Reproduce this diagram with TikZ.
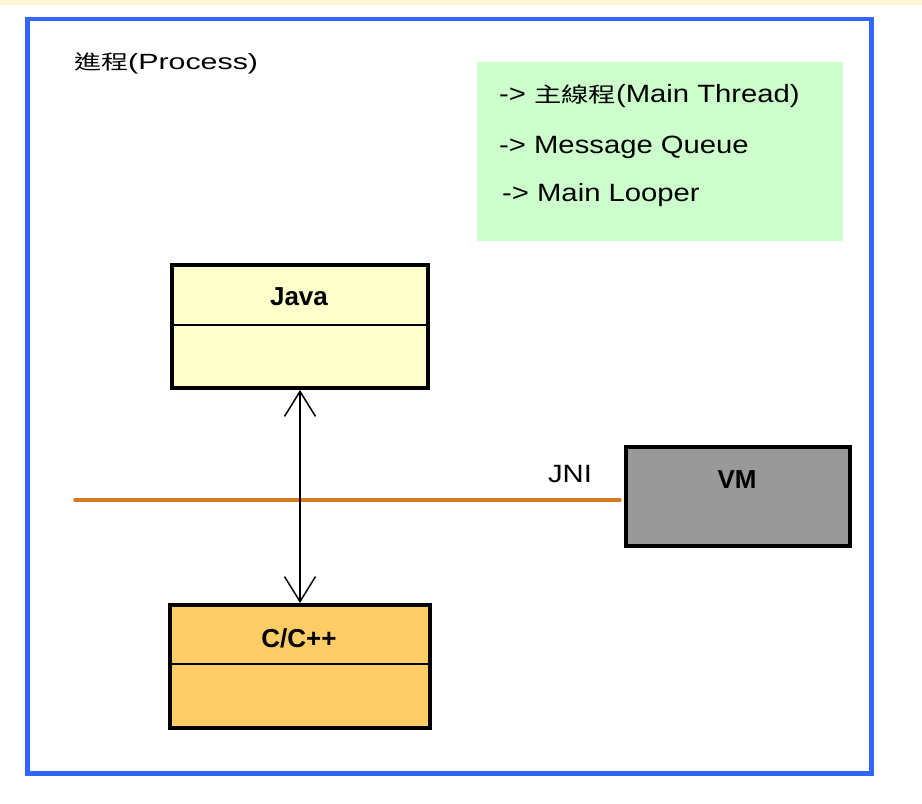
\documentclass[tikz,border=0pt]{standalone}
\usepackage{fontspec}
\setmainfont{Liberation Sans}
\newfontfamily\procfont{Liberation Sans}[FakeStretch=1.38]
\newfontfamily\proccjk{Noto Sans CJK TC}[FakeStretch=1.35]
\newfontfamily\labfont{Liberation Sans}[FakeStretch=1.17]
\newfontfamily\labcjk{Noto Sans CJK TC}[FakeStretch=1.3]
\usetikzlibrary{arrows.meta,calc}
\definecolor{bandcol}{HTML}{FFF6D6}
\definecolor{framecol}{HTML}{3366FF}
\definecolor{notecol}{HTML}{CCFFCC}
\definecolor{javacol}{HTML}{FFFFCC}
\definecolor{cppcol}{HTML}{FFCC66}
\definecolor{vmcol}{HTML}{999999}
\definecolor{jnicol}{HTML}{D47A20}
\tikzset{
  classbox/.style={draw=black, line width=4bp, inner sep=0pt, rectangle},
  titletext/.style={font=\fontsize{26bp}{28bp}\selectfont\bfseries, inner sep=0pt, anchor=base},
  notetext/.style={font=\fontsize{25bp}{28bp}\labfont, inner sep=0pt, anchor=base west},
  divider/.style={draw=black, line width=1.8bp},
  link/.style={draw=black, line width=1.5bp, {Straight Barb[length=25bp,width=31bp,line width=1.5bp]}-{Straight Barb[length=25bp,width=31bp,line width=1.5bp]}},
}
\begin{document}
\begin{tikzpicture}[x=1bp,y=-1bp]
\useasboundingbox (0,0) rectangle (922,804);
\fill[white] (0,0) rectangle (922,804);
\fill[bandcol] (0,0) rectangle (922,5.5);
% process frame
\draw[framecol, line width=4.5bp] (27.5,19) rectangle (871.5,773.5);
\node[font=\fontsize{22bp}{24bp}\procfont, inner sep=0pt, anchor=base west] (proc) at (74,70) {{\proccjk\fontsize{20bp}{24bp}\selectfont 進程}(Process)};
% notes
\node[fill=notecol, minimum width=366bp, minimum height=179bp, inner sep=0pt, outer sep=0pt] (notes) at (660,151.5) {};
\node[notetext] (n1) at (499,102) {-> {\labcjk\fontsize{21bp}{24bp}\selectfont 主線程}(Main Thread)};
\node[notetext] (n2) at (499,153) {-> Message Queue};
\node[notetext] (n3) at (502,201) {-> Main Looper};
% Java
\node[classbox, fill=javacol, minimum width=256bp, minimum height=123bp] (java) at (300,326.5) {};
\draw[divider] ($(java.west)+(0,-1.5)$) -- ($(java.east)+(0,-1.5)$);
\node[titletext] (javat) at (299,305) {Java};
% C/C++
\node[classbox, fill=cppcol, minimum width=260bp, minimum height=123bp] (cpp) at (300,666.5) {};
\draw[divider] ($(cpp.west)+(0,-2.5)$) -- ($(cpp.east)+(0,-2.5)$);
\node[titletext] (cppt) at (299,647) {C/C++};
% VM
\node[classbox, fill=vmcol, minimum width=224bp, minimum height=99bp] (vm) at (738,496.5) {};
\node[titletext] (vmt) at (737,488) {VM};
% JNI line
\coordinate (jnistart) at (75,500);
\draw[jnicol, line width=3.5bp, line cap=round] (jnistart) -- ($(jnistart -| vm.west)+(-4,0)$);
\node[font=\fontsize{25bp}{28bp}\labfont, inner sep=0pt, anchor=base] (jni) at (570,482) {JNI};
% link
\draw[link] (java.south) -- (cpp.north);
\end{tikzpicture}
\end{document}
